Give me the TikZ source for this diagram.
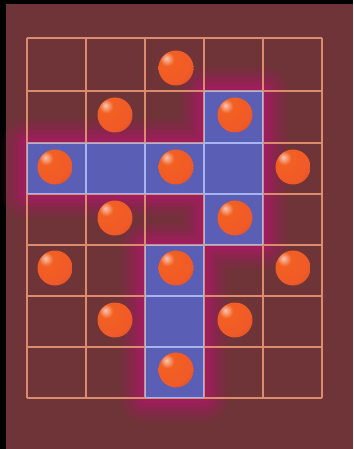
\documentclass[tikz,border=0pt]{standalone}
\usetikzlibrary{calc}
\definecolor{bg}{HTML}{6E3437}
\definecolor{cellblue}{HTML}{5A5EB4}
\definecolor{glow}{HTML}{B0186A}
\definecolor{gridline}{HTML}{DA8C6C}
\definecolor{gridblue}{HTML}{A8B4F0}
\definecolor{ballc}{HTML}{F05A28}
\pgfdeclareradialshading{ballshade}{\pgfpoint{-14bp}{14bp}}{%
  color(0bp)=(ballc!35!white);
  color(10bp)=(ballc!85!orange);
  color(32bp)=(ballc);
  color(56bp)=(ballc!75!black);
  color(100bp)=(ballc!75!black)}
\tikzset{
  ballstyle/.style={circle, minimum size=35pt, inner sep=0pt, shading=ballshade},
  gridstyle/.style={draw=gridline, line width=1.5pt},
}
\begin{document}
\begin{tikzpicture}[x=1pt,y=-1pt]
\useasboundingbox (0,0) rectangle (353,449);
\fill[black] (0,0) rectangle (353,449);
\fill[bg] (6,4) rectangle (353,449);
\newcommand{\bluepieces}{%
  (27,143) rectangle (263,194)
  (204,91) rectangle (263,143)
  (204,194) rectangle (263,245)
  (145,245) rectangle (204,398)}
% glow
\foreach \w/\o in {50/0.10,42/0.12,34/0.15,26/0.2,18/0.28,10/0.36}{
  \draw[glow, line width=\w pt, opacity=\o, line join=round] \bluepieces;
}
\fill[cellblue] \bluepieces;
% grid
\foreach \xx in {27,86,145,204,263,322}{
  \draw[gridstyle] (\xx,38) -- (\xx,398);
}
\foreach \yy in {38,91,143,194,245,296,347,398}{
  \draw[gridstyle] (27,\yy) -- (322,\yy);
}
\begin{scope}
\clip \bluepieces;
\foreach \xx in {27,86,145,204,263,322}{
  \draw[gridblue, line width=1.5pt] (\xx,38) -- (\xx,398);
}
\foreach \yy in {38,91,143,194,245,296,347,398}{
  \draw[gridblue, line width=1.5pt] (27,\yy) -- (322,\yy);
}
\end{scope}
% balls
\node[ballstyle] (b1) at (176,68) {};
\node[ballstyle] (b2) at (115,115) {};
\node[ballstyle] (b3) at (235,115) {};
\node[ballstyle] (b4) at (55,167) {};
\node[ballstyle] (b5) at (176,167) {};
\node[ballstyle] (b6) at (293,167) {};
\node[ballstyle] (b7) at (115,218) {};
\node[ballstyle] (b8) at (235,218) {};
\node[ballstyle] (b9) at (55,268) {};
\node[ballstyle] (b10) at (176,268) {};
\node[ballstyle] (b11) at (293,268) {};
\node[ballstyle] (b12) at (115,320) {};
\node[ballstyle] (b13) at (235,320) {};
\node[ballstyle] (b14) at (176,370) {};
\end{tikzpicture}
\end{document}
